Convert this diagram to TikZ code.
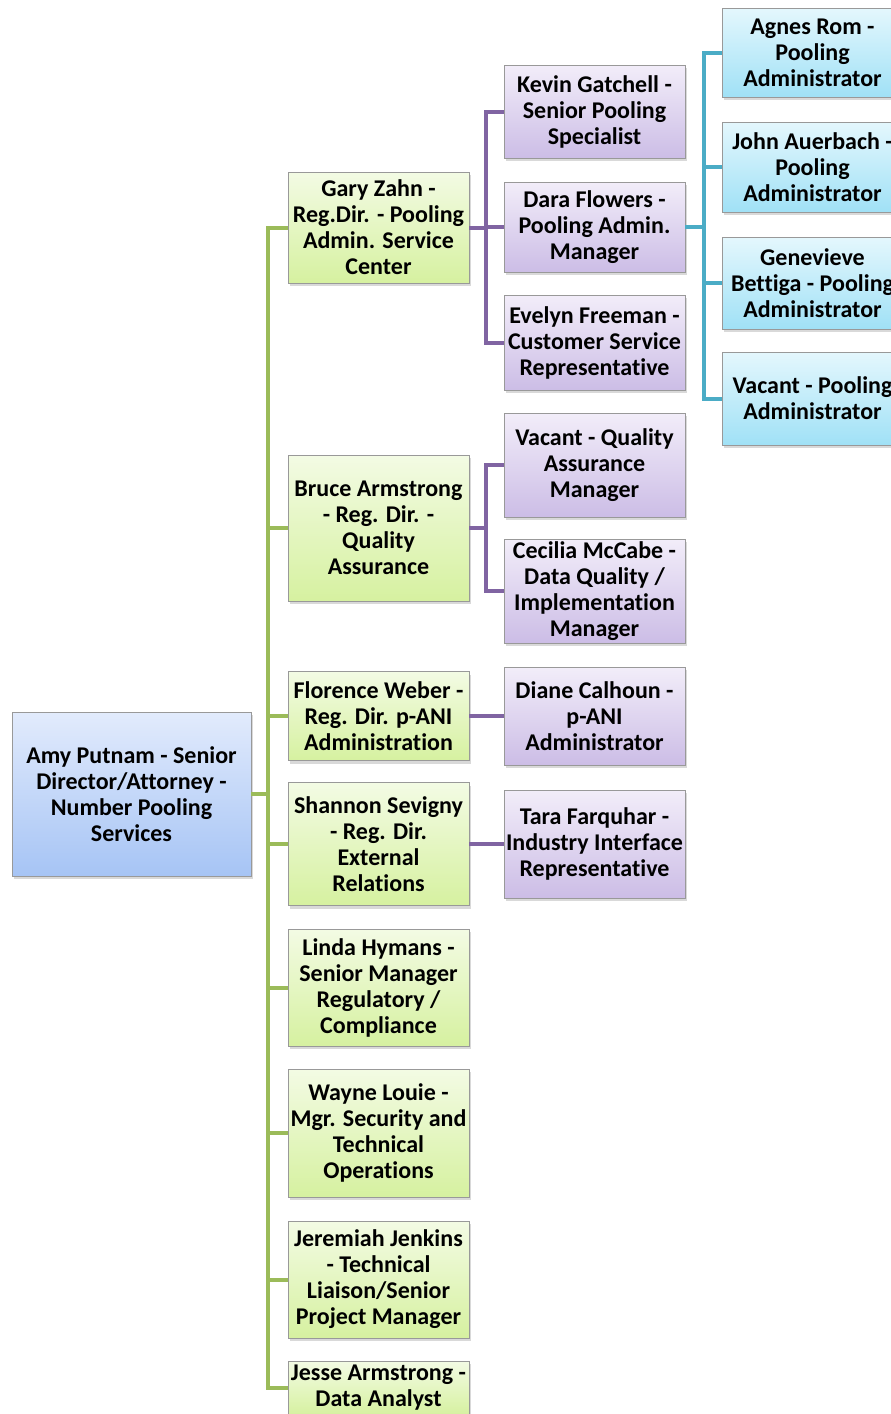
\documentclass[tikz,border=0pt]{standalone}
\usepackage{fontspec}
\setmainfont{Carlito}[Ligatures=NoCommon]
\usetikzlibrary{shadows}

\definecolor{rootTop}{RGB}{226,235,252}
\definecolor{rootBot}{RGB}{166,196,245}
\definecolor{grnTop}{RGB}{243,251,228}
\definecolor{grnBot}{RGB}{214,241,160}
\definecolor{purTop}{RGB}{242,237,249}
\definecolor{purBot}{RGB}{204,189,230}
\definecolor{bluTop}{RGB}{228,247,253}
\definecolor{bluBot}{RGB}{160,225,246}
\definecolor{grnLine}{RGB}{155,187,89}
\definecolor{purLine}{RGB}{128,100,162}
\definecolor{bluLine}{RGB}{75,172,198}

\begin{document}
\begin{tikzpicture}[x=1pt,y=-1pt,
	box/.style={draw=black!40,line width=0.8pt,align=center,inner sep=0pt,
		minimum width=181pt,font=\bfseries\fontsize{24}{26}\selectfont,
		drop shadow={opacity=0.3,shadow xshift=2pt,shadow yshift=-3pt}},
	rootbox/.style={box,minimum width=239pt,top color=rootTop,bottom color=rootBot},
	grnbox/.style={box,top color=grnTop,bottom color=grnBot},
	purbox/.style={box,top color=purTop,bottom color=purBot},
	blubox/.style={box,top color=bluTop,bottom color=bluBot},
	link/.style={line width=4pt},
]

\useasboundingbox (0,0) rectangle (891,1414);
\clip (0,0) rectangle (891,1414);

% head of the group
\node[rootbox,minimum height=164] (amy) at (131.5,794)
	{Amy Putnam - Senior\\Director/Attorney -\\Number Pooling\\Services};

% regional directors and managers
\node[grnbox,minimum height=111] (gary) at (378.5,227.5)
	{Gary Zahn -\\Reg.Dir. - Pooling\\Admin. Service\\Center};
\node[grnbox,minimum height=146] (bruce) at (378.5,528)
	{Bruce Armstrong\\- Reg. Dir. -\\Quality\\Assurance};
\node[grnbox,minimum height=89] (florence) at (378.5,716)
	{Florence Weber -\\Reg. Dir. p-ANI\\Administration};
\node[grnbox,minimum height=123] (shannon) at (378.5,844)
	{Shannon Sevigny\\- Reg. Dir.\\External\\Relations};
\node[grnbox,minimum height=117] (linda) at (378.5,987.5)
	{Linda Hymans -\\Senior Manager\\Regulatory /\\Compliance};
\node[grnbox,minimum height=128] (wayne) at (378.5,1133)
	{Wayne Louie -\\Mgr. Security and\\Technical\\Operations};
\node[grnbox,minimum height=117] (jeremiah) at (378.5,1279.5)
	{Jeremiah Jenkins\\- Technical\\Liaison/Senior\\Project Manager};
\node[grnbox,minimum height=54] (jesse) at (378.5,1388)
	{Jesse Armstrong -\\Data Analyst};

% staff
\node[purbox,minimum height=93] (kevin) at (594.5,111.5)
	{Kevin Gatchell -\\Senior Pooling\\Specialist};
\node[purbox,minimum height=90] (dara) at (594.5,227)
	{Dara Flowers -\\Pooling Admin.\\Manager};
\node[purbox,minimum height=95] (evelyn) at (594.5,342.5)
	{Evelyn Freeman -\\Customer Service\\Representative};
\node[purbox,minimum height=104] (vacantqa) at (594.5,465)
	{Vacant - Quality\\Assurance\\Manager};
\node[purbox,minimum height=104] (cecilia) at (594.5,591)
	{Cecilia McCabe -\\Data Quality /\\Implementation\\Manager};
\node[purbox,minimum height=98] (diane) at (594.5,716)
	{Diane Calhoun -\\p-ANI\\Administrator};
\node[purbox,minimum height=108] (tara) at (594.5,844)
	{Tara Farquhar -\\Industry Interface\\Representative};

% pooling administrators
\node[blubox,minimum height=89] (agnes) at (812.5,52.5)
	{Agnes Rom -\\Pooling\\Administrator};
\node[blubox,minimum height=90] (john) at (812.5,167)
	{John Auerbach -\\Pooling\\Administrator};
\node[blubox,minimum height=92] (genevieve) at (812.5,283)
	{Genevieve\\Bettiga - Pooling\\Administrator};
\node[blubox,minimum height=93] (vacantpa) at (812.5,398.5)
	{Vacant - Pooling\\Administrator};

% connectors
\begin{scope}[link]
\foreach \n in {gary,bruce,florence,shannon,linda,wayne,jeremiah,jesse}
	\draw[grnLine] (amy.east) -- ++(17,0) |- (\n.west);
\foreach \n in {kevin,dara,evelyn}
	\draw[purLine] (gary.east) -- ++(17,0) |- (\n.west);
\foreach \n in {vacantqa,cecilia}
	\draw[purLine] (bruce.east) -- ++(17,0) |- (\n.west);
\draw[purLine] (florence.east) -- (diane.west);
\draw[purLine] (shannon.east) -- (tara.west);
\foreach \n in {agnes,john,genevieve,vacantpa}
	\draw[bluLine] (dara.east) -- ++(19,0) |- (\n.west);
\end{scope}

\end{tikzpicture}
\end{document}
